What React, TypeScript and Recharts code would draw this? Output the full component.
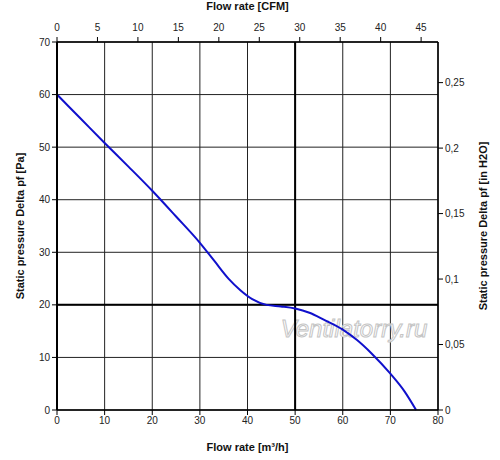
import React from 'react'
import { CartesianGrid, Label, Line, LineChart, ReferenceLine, XAxis, YAxis } from 'recharts'

// fan curve
const flowM3 = [0, 5, 10, 15, 20, 25, 30, 33, 36, 38.5, 41, 44, 47, 50, 53, 56, 60, 63, 66, 70, 73, 75.4]
const pressurePa = [60, 55.4, 50.8, 46.3, 41.7, 36.8, 31.8, 28.4, 25, 22.8, 21.1, 20, 19.7, 19.3, 18.5, 17.2, 15.3, 13.3, 10.8, 6.9, 3.5, 0]

const m3Ticks = [0, 10, 20, 30, 40, 50, 60, 70, 80]
const cfmTicks = [0, 5, 10, 15, 20, 25, 30, 35, 40, 45]
const paTicks = [0, 10, 20, 30, 40, 50, 60, 70]
const inH2oTicks = [0, 0.05, 0.1, 0.15, 0.2, 0.25]

const M3_PER_CFM = 1.699
const PA_PER_INH2O = 249.09

const data = flowM3.map((f, i) => ({ flow: f, cfm: f / M3_PER_CFM, pa: pressurePa[i] }))

const font = '"Liberation Sans", Arial, sans-serif'
const tick = { fontSize: 10, fill: '#222', fontFamily: font }
const title = { fontSize: 11, fontWeight: 'bold', fill: '#111', fontFamily: font, textAnchor: 'middle' as const }

const App = () => {
    return (
        <div style={{ position: 'absolute', left: 0, top: 0, width: 500, height: 460, background: '#fff' }}>
            <LineChart width={500} height={460} data={data} margin={{ top: 0, right: 0, bottom: 0, left: 0 }}>
                <CartesianGrid xAxisId="m3" yAxisId="pa" stroke="#222" strokeWidth={1} />

                <XAxis
                    xAxisId="m3"
                    dataKey="flow"
                    type="number"
                    domain={[0, 80]}
                    ticks={m3Ticks}
                    height={50}
                    tick={tick}
                    tickSize={5}
                    axisLine={{ stroke: '#000', strokeWidth: 1.5 }}
                    tickLine={{ stroke: '#000' }}
                >
                    <Label value="Flow rate [m³/h]" position="insideBottom" offset={9} style={title} />
                </XAxis>
                <XAxis
                    xAxisId="cfm"
                    dataKey="cfm"
                    orientation="top"
                    type="number"
                    domain={[0, 80 / M3_PER_CFM]}
                    allowDataOverflow
                    ticks={cfmTicks}
                    height={42}
                    tick={tick}
                    tickSize={5}
                    tickMargin={6}
                    axisLine={{ stroke: '#000', strokeWidth: 1.5 }}
                    tickLine={{ stroke: '#000' }}
                >
                    <Label value="Flow rate [CFM]" position="insideTop" offset={2} style={title} />
                </XAxis>

                <YAxis
                    yAxisId="pa"
                    type="number"
                    domain={[0, 70]}
                    ticks={paTicks}
                    width={57}
                    tick={tick}
                    tickSize={5}
                    axisLine={{ stroke: '#000', strokeWidth: 2 }}
                    tickLine={{ stroke: '#000' }}
                >
                    <Label value="Static pressure Delta pf [Pa]" angle={-90} position="insideLeft" offset={20} style={title} />
                </YAxis>
                <YAxis
                    yAxisId="inh2o"
                    orientation="right"
                    type="number"
                    domain={[0, 70 / PA_PER_INH2O]}
                    allowDataOverflow
                    ticks={inH2oTicks}
                    width={62}
                    tick={tick}
                    tickSize={5}
                    tickFormatter={(v: number) => String(v).replace('.', ',')}
                    axisLine={{ stroke: '#000', strokeWidth: 1.5 }}
                    tickLine={{ stroke: '#000' }}
                >
                    <Label value="Static pressure Delta pf [in H2O]" angle={-90} position="insideRight" offset={17} style={title} />
                </YAxis>

                {/* the two bolder grid lines */}
                <ReferenceLine xAxisId="m3" yAxisId="pa" x={50} stroke="#000" strokeWidth={2} />
                <ReferenceLine xAxisId="m3" yAxisId="pa" y={20} stroke="#000" strokeWidth={2} />

                <text
                    x={354}
                    y={337}
                    textAnchor="middle"
                    fontFamily={font}
                    fontStyle="italic"
                    fontSize={24}
                    fill="#fff"
                    stroke="#c4c4c4"
                    strokeWidth={1}
                >
                    Ventilatorry.ru
                </text>

                <Line
                    xAxisId="m3"
                    yAxisId="pa"
                    dataKey="pa"
                    type="monotone"
                    stroke="#1010cc"
                    strokeWidth={2}
                    dot={false}
                    isAnimationActive={false}
                />
            </LineChart>
        </div>
    )
}

export default App
